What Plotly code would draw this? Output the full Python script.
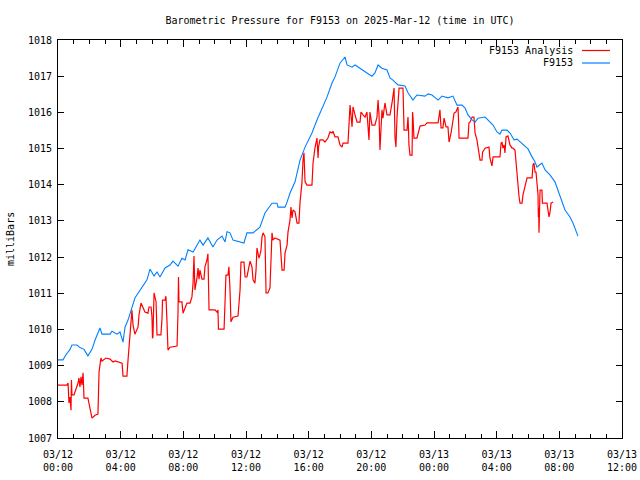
import pandas as pd
import plotly.graph_objects as go

START = "2025-03-12 00:00"
TITLE = "Barometric Pressure for F9153 on 2025-Mar-12 (time in UTC)"
Y_LABEL = "milliBars"
NAME_ANALYSIS = "F9153 Analysis"
NAME_STATION = "F9153"

# Station series: hours since start, pressure (mb)
station_hours = [
    0.00, 0.32, 0.51, 0.77, 0.89, 1.21, 1.40, 1.66, 1.91, 2.17,
    2.36, 2.68, 2.81, 3.32, 3.45, 3.77, 3.96, 4.15, 4.28, 4.47,
    4.91, 5.36, 5.68, 5.87, 6.13, 6.32, 6.51, 6.83, 7.15, 7.34,
    7.66, 7.91, 8.11, 8.30, 8.62, 8.87, 9.06, 9.26, 9.57, 9.89,
    10.15, 10.47, 10.66, 10.79, 10.98, 11.17, 11.87, 12.06, 12.45, 12.89,
    13.21, 13.66, 13.98, 14.04, 14.49, 14.62, 14.81, 15.13, 15.45, 15.77,
    16.21, 16.53, 16.85, 17.17, 17.49, 17.68, 18.00, 18.32, 18.45, 18.77,
    18.96, 19.15, 19.40, 19.72, 20.04, 20.23, 20.43, 20.68, 21.00, 21.19,
    21.38, 21.70, 22.15, 22.34, 22.66, 22.91, 23.42, 23.62, 23.87, 24.06,
    24.26, 24.51, 24.89, 25.21, 25.47, 25.79, 25.98, 26.17, 26.43, 26.62,
    26.81, 27.26, 27.57, 27.77, 28.02, 28.21, 28.34, 28.66, 28.85, 29.11,
    29.30, 29.68, 30.00, 30.26, 30.45, 30.57, 30.89, 31.09, 31.40, 31.72,
    31.91, 32.17, 32.36, 32.68, 32.87, 33.19,
]
station_mb = [
    1009.16, 1009.16, 1009.30, 1009.45, 1009.57, 1009.57, 1009.50, 1009.45, 1009.27, 1009.45,
    1009.70, 1010.04, 1009.87, 1009.87, 1009.95, 1009.87, 1009.93, 1009.65, 1010.07, 1010.26,
    1010.87, 1011.15, 1011.37, 1011.67, 1011.48, 1011.59, 1011.45, 1011.70, 1011.78, 1011.89,
    1011.75, 1011.97, 1011.92, 1012.20, 1012.14, 1012.33, 1012.47, 1012.33, 1012.53, 1012.28,
    1012.47, 1012.58, 1012.42, 1012.70, 1012.67, 1012.47, 1012.39, 1012.67, 1012.67, 1012.83,
    1013.22, 1013.49, 1013.49, 1013.38, 1013.38, 1013.52, 1013.77, 1014.08, 1014.68, 1015.04,
    1015.43, 1015.79, 1016.12, 1016.42, 1016.81, 1016.98, 1017.36, 1017.53, 1017.31, 1017.25,
    1017.31, 1017.25, 1017.17, 1017.09, 1017.00, 1017.09, 1017.31, 1017.22, 1017.17, 1016.95,
    1016.89, 1016.76, 1016.73, 1016.54, 1016.34, 1016.48, 1016.45, 1016.51, 1016.48, 1016.40,
    1016.34, 1016.45, 1016.40, 1016.45, 1016.20, 1016.20, 1016.12, 1015.93, 1015.79, 1015.73,
    1015.84, 1015.87, 1015.73, 1015.65, 1015.46, 1015.40, 1015.51, 1015.51, 1015.43, 1015.24,
    1015.26, 1015.10, 1014.99, 1014.77, 1014.63, 1014.49, 1014.60, 1014.41, 1014.27, 1014.08,
    1013.85, 1013.52, 1013.30, 1013.11, 1012.94, 1012.58,
]

# Analysis series: hours since start, pressure (mb)
analysis_hours = [
    0.00, 0.57, 0.64, 0.67, 0.70, 0.77, 0.83, 0.86, 0.89, 1.02,
    1.15, 1.21, 1.28, 1.34, 1.40, 1.47, 1.53, 1.60, 1.66, 1.91,
    2.04, 2.11, 2.17, 2.36, 2.55, 2.62, 2.74, 2.81, 3.06, 3.32,
    3.51, 3.64, 3.96, 4.09, 4.15, 4.40, 4.47, 4.60, 4.72, 4.79,
    4.91, 5.11, 5.17, 5.30, 5.43, 5.55, 5.74, 5.81, 5.94, 6.00,
    6.03, 6.06, 6.13, 6.26, 6.32, 6.57, 6.64, 6.67, 6.83, 6.89,
    6.96, 7.02, 7.15, 7.60, 7.66, 7.69, 7.72, 7.91, 7.98, 8.11,
    8.23, 8.43, 8.55, 8.62, 8.68, 8.74, 8.81, 8.87, 8.94, 9.00,
    9.06, 9.19, 9.32, 9.38, 9.51, 9.57, 9.64, 10.02, 10.15, 10.21,
    10.24, 10.60, 10.66, 10.72, 10.85, 10.91, 10.98, 11.04, 11.17, 11.49,
    11.62, 11.68, 11.87, 11.94, 12.06, 12.13, 12.26, 12.38, 12.45, 12.57,
    12.64, 12.70, 12.77, 12.83, 12.89, 12.96, 13.02, 13.09, 13.21, 13.28,
    13.40, 13.53, 13.66, 13.72, 13.85, 14.17, 14.30, 14.43, 14.49, 14.62,
    14.68, 14.81, 14.87, 14.94, 15.00, 15.13, 15.26, 15.38, 15.45, 15.57,
    15.64, 15.70, 15.77, 15.89, 16.21, 16.28, 16.40, 16.53, 16.60, 16.63,
    16.72, 16.91, 17.04, 17.23, 17.36, 17.49, 17.55, 17.68, 17.87, 18.00,
    18.13, 18.19, 18.51, 18.64, 18.77, 18.83, 18.96, 19.09, 19.28, 19.34,
    19.47, 19.60, 19.72, 19.79, 19.85, 19.91, 20.04, 20.23, 20.36, 20.43,
    20.49, 20.55, 20.68, 20.74, 20.87, 21.00, 21.19, 21.32, 21.38, 21.45,
    21.51, 21.57, 21.64, 21.70, 21.77, 22.02, 22.09, 22.28, 22.34, 22.37,
    22.40, 22.47, 22.60, 22.63, 22.66, 22.72, 22.91, 23.11, 23.43, 23.55,
    24.26, 24.38, 24.45, 24.57, 24.64, 24.77, 24.89, 24.92, 24.96, 25.09,
    25.21, 25.28, 25.40, 25.47, 25.53, 25.56, 25.60, 26.17, 26.23, 26.30,
    26.43, 26.55, 26.62, 26.74, 26.81, 26.87, 26.94, 27.06, 27.10, 27.26,
    27.51, 27.57, 27.70, 27.77, 28.21, 28.28, 28.34, 28.40, 28.47, 28.53,
    28.60, 28.72, 28.85, 28.98, 29.04, 29.17, 29.30, 29.36, 29.43, 29.49,
    29.62, 29.68, 29.81, 29.94, 30.26, 30.32, 30.38, 30.45, 30.51, 30.57,
    30.64, 30.66, 30.68, 30.70, 30.77, 30.89, 30.92, 31.21, 31.28, 31.34,
    31.40, 31.47, 31.60,
]
analysis_mb = [
    1008.46, 1008.46, 1008.52, 1008.24, 1007.97, 1008.13, 1007.77, 1008.60, 1008.19, 1008.19,
    1008.33, 1008.41, 1008.52, 1008.66, 1008.41, 1008.69, 1008.46, 1008.80, 1008.10, 1008.10,
    1007.86, 1007.69, 1007.55, 1007.63, 1007.66, 1008.82, 1009.21, 1009.13, 1009.21, 1009.18,
    1009.10, 1009.13, 1009.10, 1009.07, 1008.71, 1008.71, 1009.16, 1009.85, 1010.54, 1010.12,
    1009.87, 1010.07, 1010.40, 1010.73, 1010.59, 1010.48, 1010.45, 1010.62, 1010.62, 1010.34,
    1009.76, 1009.79, 1011.01, 1010.76, 1009.85, 1009.85, 1010.32, 1010.81, 1010.81, 1010.92,
    1010.18, 1009.43, 1009.51, 1009.54, 1010.48, 1011.45, 1010.76, 1010.76, 1010.45, 1010.59,
    1010.73, 1010.73, 1010.90, 1011.28, 1012.03, 1011.09, 1011.23, 1011.42, 1011.70, 1011.39,
    1011.64, 1011.39, 1011.39, 1011.73, 1011.92, 1012.09, 1010.54, 1010.54, 1010.48, 1010.54,
    1010.01, 1010.01, 1010.73, 1011.50, 1011.50, 1011.73, 1011.09, 1010.21, 1010.34, 1010.37,
    1011.09, 1011.86, 1011.86, 1011.45, 1011.45, 1011.64, 1011.89, 1011.73, 1011.37, 1011.28,
    1011.64, 1012.25, 1012.11, 1011.97, 1012.06, 1012.20, 1012.56, 1012.67, 1012.56, 1011.01,
    1011.01, 1011.15, 1012.67, 1012.47, 1012.53, 1012.47, 1011.64, 1011.64, 1012.11, 1012.33,
    1012.69, 1013.02, 1013.38, 1013.08, 1013.30, 1013.25, 1012.94, 1012.94, 1013.52, 1014.05,
    1014.68, 1014.88, 1014.08, 1013.99, 1013.99, 1014.60, 1015.01, 1015.29, 1014.74, 1015.04,
    1015.24, 1015.24, 1015.18, 1015.29, 1015.46, 1015.43, 1015.48, 1015.32, 1015.32, 1015.10,
    1015.04, 1015.15, 1015.15, 1016.20, 1015.60, 1016.15, 1015.93, 1015.73, 1015.73, 1016.01,
    1015.93, 1015.87, 1016.01, 1015.51, 1015.24, 1016.01, 1015.65, 1015.65, 1015.87, 1016.34,
    1015.93, 1014.96, 1016.07, 1015.84, 1016.26, 1015.93, 1015.93, 1016.26, 1016.48, 1016.67,
    1015.32, 1015.04, 1015.87, 1016.20, 1016.67, 1016.67, 1015.51, 1015.51, 1015.87, 1015.57,
    1015.10, 1014.82, 1014.82, 1016.01, 1015.87, 1015.29, 1015.29, 1015.62, 1015.65, 1015.71,
    1015.71, 1016.07, 1015.57, 1015.57, 1015.84, 1015.60, 1015.60, 1015.43, 1015.18, 1015.43,
    1015.71, 1015.98, 1016.01, 1016.12, 1016.15, 1015.87, 1015.29, 1015.29, 1015.71, 1015.73,
    1015.87, 1015.87, 1015.43, 1015.24, 1015.01, 1014.88, 1014.68, 1014.68, 1014.90, 1015.01,
    1015.04, 1014.74, 1014.52, 1014.77, 1014.77, 1015.15, 1015.18, 1015.01, 1015.10, 1014.88,
    1015.32, 1015.35, 1015.10, 1015.01, 1015.01, 1014.96, 1014.32, 1013.85, 1013.66, 1013.49,
    1013.49, 1013.72, 1013.94, 1014.19, 1014.19, 1014.55, 1014.60, 1014.35, 1014.35, 1014.08,
    1013.72, 1013.11, 1013.36, 1012.67, 1013.85, 1013.85, 1013.49, 1013.49, 1013.30, 1013.11,
    1013.22, 1013.49, 1013.52,
]

X_RANGE_HOURS = [0, 36]
Y_RANGE = [1007, 1018]

base = pd.Timestamp(START)
def to_time(hours):
    return base + pd.to_timedelta(pd.Series(hours), unit="h")

FONT = "DejaVu Sans Mono"
RED = "#ff0000"
BLUE = "#0080ff"

fig = go.Figure()
fig.add_trace(go.Scatter(x=to_time(analysis_hours), y=analysis_mb, mode="lines",
                         name=NAME_ANALYSIS, line=dict(color=RED, width=1.2)))
fig.add_trace(go.Scatter(x=to_time(station_hours), y=station_mb, mode="lines",
                         name=NAME_STATION, line=dict(color=BLUE, width=1.1)))

xr = list(to_time(X_RANGE_HOURS))

fig.update_layout(
    width=640, height=480,
    margin=dict(l=58, r=18, t=40, b=42),
    paper_bgcolor="white", plot_bgcolor="white",
    showlegend=False,
    font=dict(family=FONT, size=10, color="black"),
    title=dict(text=TITLE, x=0.5, xref="paper", xanchor="center",
               y=1 - 20 / 480, yref="container", yanchor="middle",
               font=dict(family=FONT, size=10, color="black")),
)
fig.update_xaxes(
    type="date", range=xr, dtick=4 * 3600 * 1000, tick0=xr[0],
    tickformat="%m/%d<br>%H:%M", showgrid=False, zeroline=False,
    showline=True, linecolor="black", linewidth=1, mirror="allticks",
    ticks="inside", ticklen=7, tickcolor="black", tickwidth=1,
    minor=dict(dtick=3600 * 1000, ticks="inside", ticklen=4, tickcolor="black", tickwidth=1, showgrid=False),
    tickfont=dict(family=FONT, size=10, color="black"), automargin=False,
    ticklabelstandoff=7,
)
fig.update_yaxes(
    range=Y_RANGE, dtick=1, tickformat="d", showgrid=False, zeroline=False,
    showline=True, linecolor="black", linewidth=1, mirror="allticks",
    ticks="inside", ticklen=6, tickcolor="black", tickwidth=1,
    tickfont=dict(family=FONT, size=10, color="black"), automargin=False,
    ticklabelstandoff=3,
)

# y-axis title
fig.add_annotation(text=Y_LABEL, textangle=-90, xref="paper", yref="paper",
                   x=(10 - 58) / 564, y=0.5, xanchor="center", yanchor="middle",
                   showarrow=False, font=dict(family=FONT, size=10, color="black"))

# gnuplot-style key: text then sample line on the right
for i, (name, color) in enumerate([(NAME_ANALYSIS, RED), (NAME_STATION, BLUE)]):
    ypix = 50.5 + i * 12.5
    yp = (438 - ypix) / 398
    fig.add_annotation(text=name, xref="paper", yref="paper", x=(575 - 58) / 564, y=yp,
                       xanchor="right", yanchor="middle", showarrow=False,
                       font=dict(family=FONT, size=10, color="black"))
    fig.add_shape(type="line", xref="paper", yref="paper",
                  x0=(582 - 58) / 564, x1=(610 - 58) / 564, y0=yp, y1=yp,
                  line=dict(color=color, width=1.2))

fig.write_html("out.html", config={"displayModeBar": False},
               post_script="document.body.style.margin='0';")
